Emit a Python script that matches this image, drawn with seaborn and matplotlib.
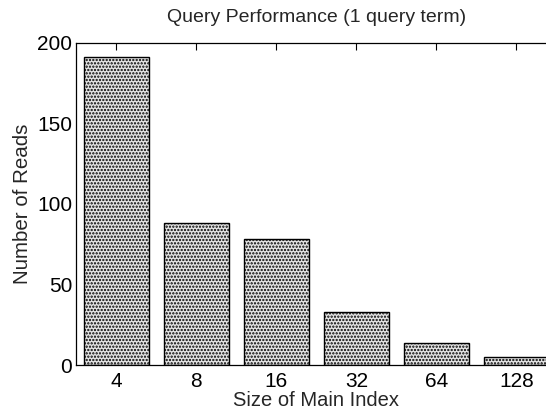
import matplotlib
matplotlib.use("Agg")
import matplotlib.pyplot as plt
import seaborn as sns
import pandas as pd

# Mean number of disk reads per query, by main index size
index_sizes = ["4", "8", "16", "32", "64", "128"]
num_reads = [191, 88, 78.5, 33, 13.5, 5]

sns.set_theme(style="white")
plt.rcParams["font.family"] = ["Liberation Sans", "DejaVu Sans"]
plt.rcParams["hatch.color"] = "#3a3a3a"
plt.rcParams["hatch.linewidth"] = 1.1

df = pd.DataFrame({"size": index_sizes, "reads": num_reads})

fig = plt.figure(figsize=(5.46, 4.12), dpi=100)
ax = fig.add_axes([0.140, 0.114, 0.879, 0.782])

sns.barplot(data=df, x="size", y="reads", order=index_sizes, ax=ax,
            color="#e4e4e4", edgecolor="black", linewidth=1.0, width=0.82,
            errorbar=None, saturation=1)
for bar in ax.patches:
    bar.set_hatch(".....")

ax.set_xlim(-0.5, 5.5)
ax.set_ylim(0, 200)
ax.set_yticks([0, 50, 100, 150, 200])
ax.tick_params(axis="y", direction="in", length=5, width=0.8,
               labelsize=15, colors="black", right=True, pad=3)
ax.tick_params(axis="x", direction="in", length=5, width=0.8,
               labelsize=15, colors="black", top=True, pad=5)
for s in ax.spines.values():
    s.set_color("black")
    s.set_linewidth(0.9)

ax.set_title("Query Performance (1 query term)", fontsize=14, pad=15)
ax.set_xlabel("Size of Main Index", fontsize=14.5, labelpad=0)
ax.set_ylabel("Number of Reads", fontsize=14.8, labelpad=4)

fig.savefig("out.png", dpi=100)
